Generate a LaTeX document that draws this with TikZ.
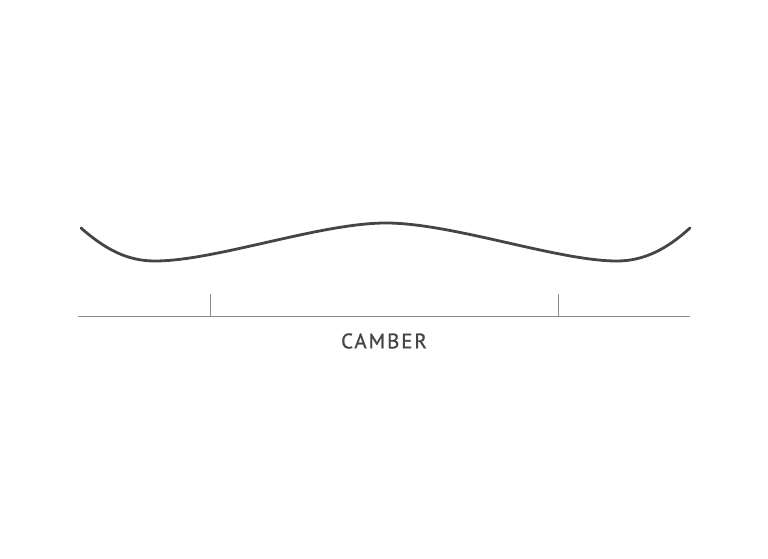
\documentclass[tikz,border=0pt]{standalone}
\usepackage{fontspec}
\setmainfont{PT Sans}
\usetikzlibrary{positioning}
\definecolor{boardgray}{HTML}{454545}
\definecolor{rulegray}{HTML}{8C8C8C}
\tikzstyle{board} = [draw=boardgray,line width=2.8pt,line cap=round]
\tikzstyle{ruler} = [draw=rulegray,line width=0.9pt]

\begin{document}
\begin{tikzpicture}[x=1pt,y=-1pt]
   \useasboundingbox (0,0) rectangle (768,559);
   % profile points
   \coordinate (tip)  at (81,228);
   \coordinate (low1) at (155,261);
   \coordinate (top)  at (386,223);
   \coordinate (low2) at (617,261);
   \coordinate (tail) at (690,228);

   \path[board] (tip) .. controls (106,250) and (128,261) .. (low1)
      .. controls (215,261) and (320,223) .. (top)
      .. controls (452,223) and (558,261) .. (low2)
      .. controls (645,261) and (668,248) .. (tail);

   % ruler
   \coordinate (left)  at (78,316.5);
   \coordinate (right) at (690,316.5);
   \coordinate (m1) at (210,316.5);
   \coordinate (m2) at (558,316.5);
   \coordinate (m1top) at (210,294);
   \coordinate (m2top) at (558,294);
   \path[ruler] (left) -- (right);
   \path[ruler] (m1) -- (m1top);
   \path[ruler] (m2) -- (m2top);

   \node[text=boardgray,font=\fontsize{21}{24}\selectfont\addfontfeature{LetterSpace=9,FakeBold=0.8}] (label) at (384,341) {CAMBER};
\end{tikzpicture}
\end{document}
